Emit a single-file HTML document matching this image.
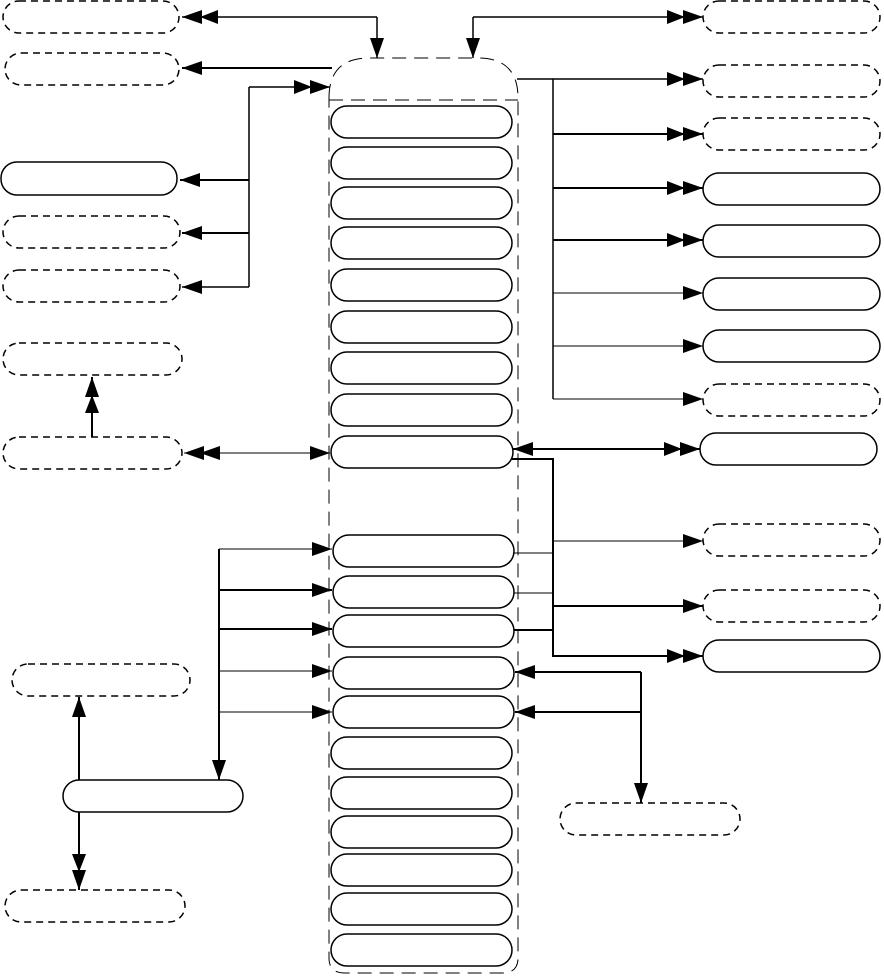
<!DOCTYPE html>
<html><head><meta charset="utf-8"><style>html,body{margin:0;padding:0;background:#fff}svg{display:block}</style></head><body>
<svg width="884" height="976" viewBox="0 0 884 976" xmlns="http://www.w3.org/2000/svg">
<defs>
<marker id="a" markerWidth="20" markerHeight="14" refX="20" refY="7" orient="auto" markerUnits="userSpaceOnUse"><path d="M0,0 L20,7 L0,14 z" fill="#000"/></marker>
<marker id="aa" markerWidth="36" markerHeight="14" refX="36" refY="7" orient="auto" markerUnits="userSpaceOnUse"><path d="M0,0 L18,7 L0,14 z M16,0 L36,7 L16,14 z" fill="#000"/></marker>
<marker id="s" markerWidth="20" markerHeight="14" refX="0" refY="7" orient="auto" markerUnits="userSpaceOnUse"><path d="M20,0 L0,7 L20,14 z" fill="#000"/></marker>
<marker id="ss" markerWidth="36" markerHeight="14" refX="0" refY="7" orient="auto" markerUnits="userSpaceOnUse"><path d="M20,0 L0,7 L20,14 z M36,0 L16,7 L36,14 z" fill="#000"/></marker>
</defs>
<g fill="none" stroke="#000" stroke-width="1.5">
<g stroke-dasharray="7,5">
<rect x="3" y="1" width="176" height="32" rx="16"/>
<rect x="5" y="53" width="174" height="32" rx="16"/>
<rect x="3" y="216" width="177" height="32" rx="16"/>
<rect x="3" y="270" width="177" height="32" rx="16"/>
<rect x="3" y="343" width="179" height="32" rx="16"/>
<rect x="3" y="437" width="179" height="32" rx="16"/>
<rect x="12" y="664" width="178" height="32" rx="16"/>
<rect x="5" y="890" width="180" height="32" rx="16"/>
<rect x="703" y="1" width="177" height="32" rx="16"/>
<rect x="703" y="65" width="177" height="32" rx="16"/>
<rect x="703" y="118" width="177" height="32" rx="16"/>
<rect x="703" y="384" width="177" height="32" rx="16"/>
<rect x="703" y="524" width="177" height="32" rx="16"/>
<rect x="703" y="590" width="177" height="32" rx="16"/>
<rect x="560" y="803" width="180" height="32" rx="16"/>
</g>
<g stroke-width="1" stroke-dasharray="14,8">
<path d="M329,98 Q329,58 369,58 L478,58 Q518,58 518,98 L518,958 Q518,973 502,973 L345,973 Q329,973 329,958 Z"/>
<path d="M329,100 L518,100"/>
</g>
<rect x="1" y="162" width="176" height="33" rx="16"/>
<rect x="63" y="780" width="180" height="32" rx="16"/>
<rect x="703" y="173" width="177" height="32" rx="16"/>
<rect x="703" y="225" width="177" height="32" rx="16"/>
<rect x="703" y="278" width="177" height="32" rx="16"/>
<rect x="703" y="330" width="177" height="32" rx="16"/>
<rect x="700" y="433" width="177" height="32" rx="16"/>
<rect x="703" y="640" width="177" height="32" rx="16"/>
<g>
<rect x="331" y="106" width="181" height="32" rx="16"/>
<rect x="331" y="147" width="181" height="32" rx="16"/>
<rect x="331" y="187" width="181" height="32" rx="16"/>
<rect x="331" y="227" width="181" height="32" rx="16"/>
<rect x="331" y="269" width="181" height="32" rx="16"/>
<rect x="331" y="311" width="181" height="32" rx="16"/>
<rect x="331" y="352" width="181" height="32" rx="16"/>
<rect x="331" y="394" width="181" height="32" rx="16"/>
<rect x="331" y="436" width="182" height="32" rx="16"/>
<rect x="333" y="535" width="181" height="32" rx="16"/>
<rect x="333" y="576" width="181" height="32" rx="16"/>
<rect x="333" y="615" width="181" height="32" rx="16"/>
<rect x="333" y="657" width="181" height="32" rx="16"/>
<rect x="333" y="696" width="181" height="32" rx="16"/>
<rect x="331" y="737" width="181" height="32" rx="16"/>
<rect x="331" y="777" width="181" height="32" rx="16"/>
<rect x="331" y="816" width="181" height="32" rx="16"/>
<rect x="331" y="854" width="181" height="32" rx="16"/>
<rect x="331" y="893" width="181" height="32" rx="16"/>
<rect x="331" y="934" width="181" height="32" rx="16"/>
</g>
<path d="M377,17 L182,17" marker-end="url(#aa)"/>
<path d="M377,17 L377,58" marker-end="url(#a)"/>
<path d="M473,17 L703,17" marker-end="url(#aa)"/>
<path d="M473,17 L473,58" marker-end="url(#a)"/>
<path d="M332,68 L182,68" stroke-width="2" marker-end="url(#a)"/>
<path d="M249,87 L330,87" marker-end="url(#aa)"/>
<path d="M249,87 L249,287"/>
<path d="M249,180 L180,180" stroke-width="2" marker-end="url(#a)"/>
<path d="M249,233 L182,233" stroke-width="2" marker-end="url(#a)"/>
<path d="M249,287 L182,287" marker-end="url(#a)"/>
<path d="M517,79 L553,79 L553,399"/>
<path d="M553,79 L703,79" marker-end="url(#aa)"/>
<path d="M553,134 L703,134" stroke-width="2" marker-end="url(#aa)"/>
<path d="M553,188 L703,188" stroke-width="2" marker-end="url(#aa)"/>
<path d="M553,240 L703,240" stroke-width="2" marker-end="url(#aa)"/>
<path d="M553,293 L703,293" stroke-width="1" marker-end="url(#a)"/>
<path d="M553,346 L703,346" stroke-width="1" marker-end="url(#a)"/>
<path d="M553,399 L703,399" stroke-width="1" marker-end="url(#a)"/>
<path d="M184,453 L330,453" stroke-width="1" marker-start="url(#ss)" marker-end="url(#a)"/>
<path d="M92,437 L92,377" stroke-width="2" marker-end="url(#aa)"/>
<path d="M513,449 L700,449" stroke-width="2" marker-start="url(#s)" marker-end="url(#aa)"/>
<path d="M512,459 L553,459 L553,656 L703,656" stroke-width="2" marker-end="url(#aa)"/>
<path d="M553,541 L703,541" stroke-width="1" marker-end="url(#a)"/>
<path d="M553,606 L703,606" stroke-width="2" marker-end="url(#a)"/>
<path d="M514,553 L553,553 M514,593 L553,593" stroke-width="1"/>
<path d="M514,630 L553,630" stroke-width="2"/>
<path d="M219,549 L219,780" stroke-width="2" marker-end="url(#a)"/>
<path d="M219,549 L332,549" stroke-width="1" marker-end="url(#a)"/>
<path d="M219,590 L332,590" stroke-width="2" marker-end="url(#a)"/>
<path d="M219,629 L332,629" stroke-width="2" marker-end="url(#a)"/>
<path d="M219,671 L332,671" stroke-width="1" marker-end="url(#a)"/>
<path d="M219,712 L332,712" stroke-width="1" marker-end="url(#a)"/>
<path d="M641,672 L515,672" stroke-width="2" marker-end="url(#a)"/>
<path d="M641,712 L515,712" stroke-width="2" marker-end="url(#a)"/>
<path d="M641,672 L641,803" stroke-width="2" marker-end="url(#a)"/>
<path d="M79,780 L79,697" stroke-width="2" marker-end="url(#a)"/>
<path d="M79,812 L79,890" stroke-width="2" marker-end="url(#aa)"/>
</g>
</svg>
</body></html>
